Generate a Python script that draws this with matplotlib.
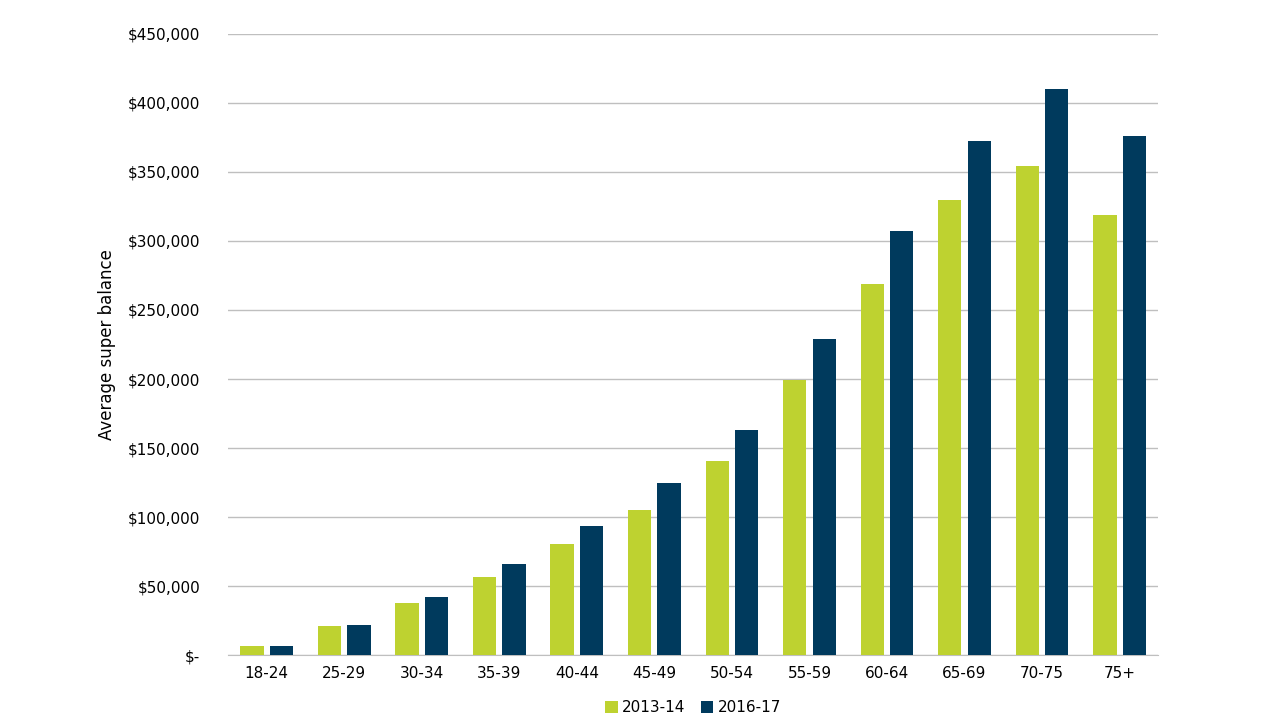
import numpy as np
import matplotlib.pyplot as plt
from matplotlib.ticker import FuncFormatter

age_groups = ['18-24', '25-29', '30-34', '35-39', '40-44', '45-49',
              '50-54', '55-59', '60-64', '65-69', '70-75', '75+']
bal_2013 = [6500, 21000, 38000, 56500, 80500, 105000,
            140500, 199000, 268500, 330000, 354000, 318500]
bal_2016 = [6500, 22000, 42000, 66000, 93500, 124500,
            163000, 229000, 307500, 372500, 410000, 376000]
yticks = np.arange(0, 450001, 50000)

fig = plt.figure(figsize=(12.8, 7.2), dpi=100)
ax = fig.add_axes([0.178, 0.09, 0.727, 0.863])

x = np.arange(len(age_groups))
w = 0.3
ax.bar(x - 0.19, bal_2013, w, color='#BED230', label='2013-14', zorder=3)
ax.bar(x + 0.19, bal_2016, w, color='#003A5D', label='2016-17', zorder=3)

ax.set_xlim(-0.5, len(age_groups) - 0.5)
ax.set_ylim(0, 450000)
ax.set_yticks(yticks)
ax.yaxis.set_major_formatter(FuncFormatter(lambda v, p: '$-' if v == 0 else f'${v:,.0f}'))
ax.set_xticks(x)
ax.set_xticklabels(age_groups)
ax.grid(axis='y', color='#BFBFBF', linewidth=1, zorder=0)
for s in ['top', 'right', 'left']:
    ax.spines[s].set_visible(False)
ax.spines['bottom'].set_color('#BFBFBF')
ax.tick_params(axis='y', length=0, labelsize=11, pad=20)
ax.tick_params(axis='x', length=0, labelsize=11, pad=8)
ax.set_ylabel('Average super balance', fontsize=12, labelpad=8)

ax.legend(loc='upper center', bbox_to_anchor=(0.5, -0.05), ncol=2, frameon=False,
          fontsize=11, handlelength=0.8, handleheight=0.8, columnspacing=1.0, handletextpad=0.3)

fig.savefig('out.png')
